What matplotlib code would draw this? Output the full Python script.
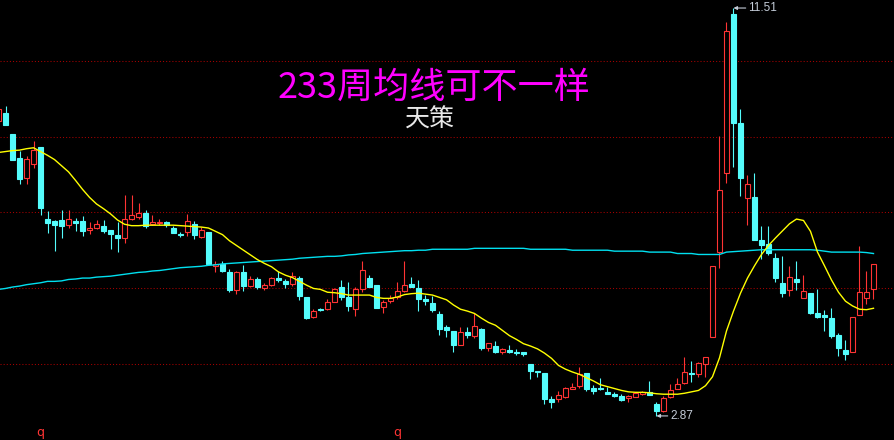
import matplotlib
matplotlib.use("Agg")
import matplotlib.pyplot as plt
from matplotlib.patches import Rectangle
from matplotlib.transforms import blended_transform_factory

plt.rcParams['font.family'] = ['Noto Sans CJK SC', 'DejaVu Sans']

# ---------------- data ----------------
opens = [9.12, 9.29, 8.84, 8.33, 7.91, 8.21, 8.57, 7.04, 7.00, 7.02,
         6.91, 7.00, 7.00, 6.81, 6.85, 6.89, 6.81, 6.70, 6.64, 7.04,
         7.08, 7.17, 6.94, 6.96, 6.98, 6.85, 6.72, 6.77, 6.94, 6.66,
         6.77, 6.05, 6.09, 5.92, 5.54, 5.92, 5.62, 5.77, 5.58, 5.64,
         5.79, 5.73, 5.67, 5.79, 5.39, 4.97, 5.14, 5.14, 5.28, 5.60,
         5.39, 5.14, 5.56, 5.79, 5.64, 5.18, 5.30, 5.39, 5.52, 5.67,
         5.58, 5.35, 5.26, 5.03, 4.75, 4.67, 4.37, 4.65, 4.56, 4.71,
         4.31, 4.35, 4.23, 4.27, 4.23, 4.23, 3.97, 3.82, 3.78, 3.23,
         3.23, 3.27, 3.44, 3.51, 3.78, 3.46, 3.46, 3.38, 3.34, 3.29,
         3.25, 3.27, 3.34, 3.38, 3.12, 2.98, 3.27, 3.44, 3.57, 3.78,
         3.76, 3.97, 4.54, 6.34, 8.02, 11.38, 9.07, 7.49, 7.51, 6.60,
         6.51, 6.22, 5.69, 5.54, 5.77, 5.37, 5.47, 5.05, 5.01, 4.95,
         4.59, 4.27, 4.23, 5.01, 5.37, 5.56]
highs = [9.44, 9.44, 8.84, 8.48, 8.38, 8.69, 8.57, 7.21, 7.02, 7.23,
         7.23, 7.06, 7.11, 6.98, 7.02, 7.02, 6.81, 6.98, 7.55, 7.55,
         7.38, 7.23, 7.13, 7.04, 7.00, 6.89, 6.77, 7.15, 7.00, 6.87,
         6.77, 6.15, 6.15, 5.98, 5.94, 6.07, 5.83, 5.81, 5.69, 5.81,
         5.94, 5.77, 5.92, 5.83, 5.39, 5.14, 5.16, 5.35, 5.58, 5.75,
         5.71, 5.60, 6.15, 5.86, 5.64, 5.33, 5.43, 5.71, 6.15, 5.81,
         5.75, 5.43, 5.41, 5.09, 4.80, 4.67, 4.75, 4.75, 5.05, 4.73,
         4.42, 4.46, 4.31, 4.37, 4.29, 4.23, 3.97, 3.82, 3.78, 3.29,
         3.40, 3.48, 3.57, 3.91, 3.78, 3.53, 3.67, 3.48, 3.38, 3.34,
         3.31, 3.36, 3.40, 3.61, 3.17, 3.29, 3.55, 3.67, 4.12, 4.03,
         4.01, 4.12, 6.05, 8.80, 11.21, 11.51, 9.37, 7.97, 8.02, 6.89,
         6.89, 6.32, 6.26, 6.05, 6.15, 5.86, 5.47, 5.56, 5.11, 5.16,
         4.63, 4.48, 4.97, 6.47, 5.94, 6.09]
lows = [9.07, 9.03, 8.29, 7.78, 7.78, 8.12, 7.13, 6.75, 6.36, 6.64,
        6.85, 6.79, 6.68, 6.72, 6.83, 6.75, 6.41, 6.34, 6.53, 7.02,
        7.04, 6.85, 6.91, 6.91, 6.87, 6.75, 6.66, 6.68, 6.62, 6.64,
        6.07, 5.92, 5.92, 5.50, 5.45, 5.52, 5.60, 5.56, 5.54, 5.62,
        5.71, 5.58, 5.62, 5.33, 4.92, 4.95, 5.09, 5.11, 5.28, 5.33,
        5.09, 4.99, 5.50, 5.60, 5.16, 5.05, 5.26, 5.35, 5.50, 5.60,
        5.09, 5.22, 5.07, 4.59, 4.54, 4.23, 4.37, 4.52, 4.52, 4.27,
        4.25, 4.20, 4.18, 4.20, 4.16, 4.14, 3.65, 3.70, 3.12, 3.04,
        3.17, 3.25, 3.44, 3.46, 3.40, 3.34, 3.42, 3.34, 3.27, 3.19,
        3.17, 3.27, 3.31, 3.31, 2.87, 2.95, 3.25, 3.44, 3.55, 3.59,
        3.70, 3.70, 4.54, 6.00, 7.80, 8.14, 7.53, 6.91, 6.60, 6.19,
        6.28, 5.71, 5.39, 5.41, 5.54, 5.37, 5.03, 4.95, 4.67, 4.52,
        4.14, 4.06, 4.23, 5.01, 5.24, 5.35]
closes = [9.37, 9.03, 8.29, 7.89, 8.31, 8.50, 7.28, 6.96, 6.91, 6.89,
          7.04, 6.96, 6.79, 6.85, 6.94, 6.79, 6.72, 6.64, 7.04, 7.13,
          7.17, 6.89, 6.98, 6.98, 6.91, 6.75, 6.70, 7.00, 6.70, 6.81,
          6.09, 6.09, 5.94, 5.54, 5.92, 5.62, 5.77, 5.60, 5.64, 5.79,
          5.75, 5.67, 5.83, 5.41, 4.95, 5.09, 5.11, 5.28, 5.56, 5.39,
          5.20, 5.56, 5.96, 5.60, 5.16, 5.28, 5.37, 5.52, 5.64, 5.60,
          5.35, 5.30, 5.11, 4.71, 4.69, 4.37, 4.65, 4.59, 4.78, 4.31,
          4.42, 4.23, 4.29, 4.23, 4.20, 4.18, 3.82, 3.80, 3.23, 3.17,
          3.31, 3.46, 3.48, 3.76, 3.44, 3.40, 3.44, 3.34, 3.29, 3.21,
          3.29, 3.36, 3.38, 3.31, 2.98, 3.25, 3.42, 3.55, 3.80, 3.76,
          3.99, 4.12, 6.05, 7.66, 11.02, 9.07, 7.91, 7.78, 6.60, 6.49,
          6.32, 5.79, 5.47, 5.81, 5.71, 5.52, 5.05, 4.97, 4.97, 4.56,
          4.31, 4.18, 4.97, 5.50, 5.50, 6.09]
ma_short = [8.45, 8.47, 8.49, 8.50, 8.53, 8.55, 8.47, 8.39, 8.30, 8.17,
            8.04, 7.86, 7.67, 7.50, 7.36, 7.26, 7.15, 7.02, 6.93, 6.90,
            6.90, 6.91, 6.91, 6.91, 6.91, 6.91, 6.90, 6.89, 6.88, 6.87,
            6.85, 6.78, 6.71, 6.58, 6.48, 6.38, 6.28, 6.18, 6.10, 6.03,
            5.92, 5.85, 5.80, 5.72, 5.64, 5.57, 5.55, 5.49, 5.48, 5.46,
            5.43, 5.43, 5.43, 5.43, 5.38, 5.36, 5.36, 5.39, 5.44, 5.46,
            5.47, 5.45, 5.43, 5.38, 5.33, 5.22, 5.13, 5.09, 5.04, 4.94,
            4.85, 4.79, 4.68, 4.57, 4.49, 4.40, 4.35, 4.29, 4.20, 4.09,
            3.94, 3.86, 3.80, 3.75, 3.68, 3.61, 3.53, 3.49, 3.45, 3.41,
            3.38, 3.37, 3.37, 3.36, 3.34, 3.33, 3.33, 3.33, 3.35, 3.38,
            3.41, 3.51, 3.70, 4.10, 4.67, 5.09, 5.47, 5.79, 6.05, 6.29,
            6.48, 6.64, 6.79, 6.94, 7.04, 7.01, 6.78, 6.34, 6.05, 5.75,
            5.49, 5.30, 5.20, 5.13, 5.12, 5.15]
ma233 = [5.55, 5.57, 5.60, 5.62, 5.65, 5.67, 5.69, 5.72, 5.72, 5.73,
         5.76, 5.77, 5.79, 5.79, 5.81, 5.82, 5.83, 5.85, 5.87, 5.89,
         5.91, 5.92, 5.94, 5.95, 5.97, 5.99, 6.01, 6.02, 6.03, 6.04,
         6.06, 6.07, 6.09, 6.10, 6.11, 6.12, 6.13, 6.14, 6.15, 6.16,
         6.17, 6.18, 6.19, 6.21, 6.22, 6.23, 6.24, 6.25, 6.25, 6.26,
         6.28, 6.29, 6.31, 6.32, 6.33, 6.34, 6.35, 6.36, 6.37, 6.37,
         6.38, 6.38, 6.40, 6.40, 6.40, 6.40, 6.40, 6.40, 6.42, 6.42,
         6.42, 6.42, 6.42, 6.42, 6.42, 6.42, 6.40, 6.40, 6.40, 6.40,
         6.40, 6.40, 6.38, 6.38, 6.38, 6.38, 6.38, 6.38, 6.36, 6.36,
         6.36, 6.36, 6.36, 6.34, 6.34, 6.34, 6.34, 6.31, 6.31, 6.31,
         6.29, 6.29, 6.29, 6.29, 6.34, 6.35, 6.36, 6.37, 6.38, 6.39,
         6.39, 6.39, 6.39, 6.39, 6.39, 6.39, 6.39, 6.38, 6.36, 6.34,
         6.34, 6.34, 6.34, 6.34, 6.33, 6.31]
grid_levels = [3.97, 5.58, 7.19, 8.78, 10.39]
title_text = "233周均线可不一样"
subtitle_text = "天策"
high_label = "11.51"
low_label = "2.87"
marker_text = "q"
marker_idx = [6, 57]

# ---------------- style ----------------
RED = '#FF3434'
CYAN = '#54FCFC'
YELLOW = '#FFFF00'
MA_CYAN = '#00E0F0'
GRID = '#A80000'
LABEL = '#C4CCD8'

fig = plt.figure(figsize=(8.94, 4.40), dpi=100, facecolor='black')
ax = fig.add_axes([0, 0, 1, 1])
ax.set_facecolor('black')
ax.set_xlim(0.214, 127.93)
ax.set_ylim(2.36, 11.68)
ax.axis('off')

for g in grid_levels:
    ax.axhline(g, color=GRID, lw=0.75, ls=(0, (1, 2)), zorder=0)

w = 0.6
for i, (o, h, l, c) in enumerate(zip(opens, highs, lows, closes)):
    up = c >= o
    col = RED if up else CYAN
    ax.vlines(i, l, h, color=col, lw=0.8, zorder=1)
    bottom = min(o, c)
    height = abs(c - o)
    ax.add_patch(Rectangle((i - w / 2, bottom), w, height,
                           facecolor='black' if up else col,
                           edgecolor=col, lw=0.8, zorder=2))

xs = list(range(len(closes)))
ax.plot(xs, ma233, color=MA_CYAN, lw=1.0, zorder=3)
ax.plot(xs, ma_short, color=YELLOW, lw=1.0, zorder=3)

# extreme labels
imax = highs.index(max(highs))
imin = lows.index(min(lows))
for idx, val, txt, off in [(imax, highs[imax], high_label, 15),
                           (imin, lows[imin], low_label, 14)]:
    ax.annotate(txt, xy=(idx, val), xytext=(off, 0), textcoords='offset pixels',
                color=LABEL, fontsize=8.5, family=['Liberation Sans', 'DejaVu Sans'],
                ha='left', va='center', zorder=5,
                arrowprops=dict(arrowstyle='-|>', color=LABEL, lw=0.8,
                                mutation_scale=5, shrinkA=0, shrinkB=0,
                                relpos=(0, 0.5)))

# titles
ax.text(0.4855, 0.80, title_text, transform=ax.transAxes, color='#FF00FF',
        fontsize=26, ha='center', va='center', zorder=6)
ax.text(0.481, 0.727, subtitle_text, transform=ax.transAxes, color='#E8E8E8',
        fontsize=18, ha='center', va='center', zorder=6)

# small red markers at the bottom
trans = blended_transform_factory(ax.transData, ax.transAxes)
for m in marker_idx:
    ax.text(m, 0.018, marker_text, transform=trans, color=RED, fontsize=9,
            ha='center', va='center', family=['DejaVu Sans'])

fig.savefig('out.png', dpi=100, facecolor='black')
